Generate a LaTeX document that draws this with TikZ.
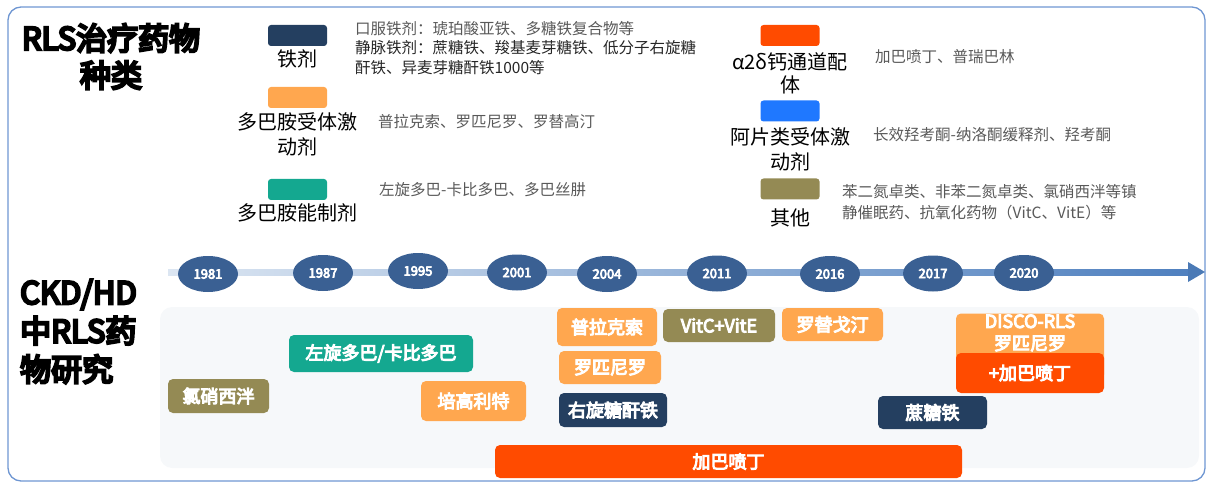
\documentclass[tikz,border=0pt]{standalone}
\usepackage{fontspec}
\setmainfont{Noto Sans CJK SC}
\newfontfamily\bfcjk{Noto Sans CJK SC}[FakeBold=5.5]
\newfontfamily\bfcjkheavy{Noto Sans CJK SC}[FakeBold=8]
\usetikzlibrary{shapes.geometric}
\definecolor{navyc}{HTML}{243F60}
\definecolor{orangec}{HTML}{FFA74F}
\definecolor{tealc}{HTML}{14A890}
\definecolor{redc}{HTML}{FF4B00}
\definecolor{bluec}{HTML}{1F78FF}
\definecolor{olivec}{HTML}{948A54}
\definecolor{yearc}{HTML}{3A6093}
\definecolor{tlA}{HTML}{DCE6F2}
\definecolor{tlB}{HTML}{4F80BF}
\definecolor{framec}{HTML}{6E96D2}
\definecolor{panelc}{HTML}{F6F8FA}
\definecolor{grayt}{HTML}{595959}
\definecolor{darkt}{HTML}{262626}
\begin{document}
\begin{tikzpicture}[x=1pt,y=-1pt,
  swatch/.style={rounded corners=3pt, minimum width=59pt, minimum height=21pt, inner sep=0pt},
  leglabel/.style={inner sep=0pt, align=center, text=black, font=\fontsize{20}{25}\selectfont},
  desc/.style={inner sep=0pt, anchor=west, align=left, text=grayt, font=\fontsize{15.5}{19.5}\selectfont},
  yearnode/.style={ellipse, fill=yearc, minimum width=60pt, minimum height=36pt, inner sep=0pt, text=white, font=\bfcjk\fontsize{13}{15}\selectfont},
  tbox/.style={rounded corners=5pt, inner sep=0pt, align=center, text=white, font=\bfcjk\fontsize{18}{22}\selectfont},
  bigtitle/.style={inner sep=0pt, text=black, font=\bfcjkheavy\fontsize{31}{37}\selectfont}
]
\useasboundingbox (0,0) rectangle (1215,489);
% frame and panel
\draw[framec, line width=1.3pt, rounded corners=13pt] (8,7) rectangle (1205,481);
\fill[panelc, rounded corners=12pt] (160,307) rectangle (1199,468);

% titles
\node[bigtitle, align=center] (t1) at (111,56.5) {RLS治疗药物\\种类};
\node[bigtitle, align=left, anchor=west, font=\bfcjkheavy\fontsize{31}{38.5}\selectfont] (t2) at (20,331.5) {CKD/HD\\中RLS药\\物研究};

% legend left column
\node[swatch, fill=navyc] (sw1) at (297.5,35.5) {};
\node[leglabel] (lb1) at (297.5,59) {铁剂};
\node[swatch, fill=orangec] (sw2) at (297.5,97.5) {};
\node[leglabel] (lb2) at (297.5,134.5) {多巴胺受体激\\动剂};
\node[swatch, fill=tealc] (sw3) at (297.5,189.5) {};
\node[leglabel] (lb3) at (297.5,213) {多巴胺能制剂};

\node[desc] (d1) at (355,48) {口服铁剂：琥珀酸亚铁、多糖铁复合物等\\{\color{darkt}静脉铁剂：蔗糖铁、羧基麦芽糖铁、低分子右旋糖}\\{\color{darkt}酐铁、异麦芽糖酐铁1000等}};
\node[desc] (d2) at (378,122) {普拉克索、罗匹尼罗、罗替高汀};
\node[desc] (d3) at (379,190) {左旋多巴-卡比多巴、多巴丝肼};

% legend right column
\node[swatch, fill=redc] (sw4) at (790,35.5) {};
\node[leglabel, font=\fontsize{20}{23}\selectfont] (lb4) at (790,73.5) {α2δ钙通道配\\体};
\node[swatch, fill=bluec] (sw5) at (790,111) {};
\node[leglabel] (lb5) at (790,149.5) {阿片类受体激\\动剂};
\node[swatch, fill=olivec] (sw6) at (790,189) {};
\node[leglabel] (lb6) at (790,218) {其他};

\node[desc] (d4) at (875,57) {加巴喷丁、普瑞巴林};
\node[desc] (d5) at (873,135) {长效羟考酮-纳洛酮缓释剂、羟考酮};
\node[desc, font=\fontsize{15.5}{21}\selectfont] (d6) at (842,202.5) {苯二氮卓类、非苯二氮卓类、氯硝西泮等镇\\静催眠药、抗氧化药物（VitC、VitE）等};

% timeline
\coordinate (tlstart) at (168,272);
\coordinate (tlhead) at (1188,272);
\coordinate (tlend) at (1205,272);
\shade[left color=tlA, right color=tlB] ([yshift=3pt]tlstart) rectangle ([yshift=-3pt,xshift=2pt]tlhead);
\fill[tlB!95!black] ([yshift=10pt]tlhead) -- (tlend) -- ([yshift=-10pt]tlhead) -- cycle;

\node[yearnode] (y1981) at (208,274) {1981};
\node[yearnode] (y1987) at (323,273) {1987};
\node[yearnode] (y1995) at (418,271) {1995};
\node[yearnode] (y2001) at (517,272.5) {2001};
\node[yearnode] (y2004) at (607,274) {2004};
\node[yearnode] (y2011) at (717,273.5) {2011};
\node[yearnode] (y2016) at (830,274) {2016};
\node[yearnode] (y2017) at (933,273.5) {2017};
\node[yearnode] (y2020) at (1024,273) {2020};

% boxes
\node[tbox, fill=olivec, minimum width=101pt, minimum height=34pt] (b1) at (218.5,396) {氯硝西泮};
\node[tbox, fill=tealc, minimum width=184pt, minimum height=37pt] (b2) at (381,353.5) {左旋多巴/卡比多巴};
\node[tbox, fill=orangec, minimum width=105pt, minimum height=40pt] (b3) at (473.5,401) {培高利特};
\node[tbox, fill=orangec, minimum width=100pt, minimum height=38pt] (b4) at (607,327) {普拉克索};
\node[tbox, fill=orangec, minimum width=102pt, minimum height=33pt] (b5) at (610,367.5) {罗匹尼罗};
\node[tbox, fill=navyc, minimum width=108pt, minimum height=34pt] (b6) at (613,410) {右旋糖酐铁};
\node[tbox, fill=redc, minimum width=467pt, minimum height=33pt] (b7) at (728.5,461.5) {加巴喷丁};
\node[tbox, fill=olivec, minimum width=112pt, minimum height=33pt] (b8) at (719,325.5) {VitC+VitE};
\node[tbox, fill=orangec, minimum width=101pt, minimum height=33pt] (b9) at (832.5,324.5) {罗替戈汀};
\node[tbox, fill=navyc, minimum width=109pt, minimum height=33pt] (b10) at (932.5,412.5) {蔗糖铁};
\node[tbox, fill=orangec, minimum width=148pt, minimum height=66pt] (b11) at (1030,346.5) {DISCO-RLS\\罗匹尼罗\\\strut};
\node[tbox, fill=redc, minimum width=148pt, minimum height=40pt] (b12) at (1030,373) {+加巴喷丁};
\end{tikzpicture}
\end{document}
